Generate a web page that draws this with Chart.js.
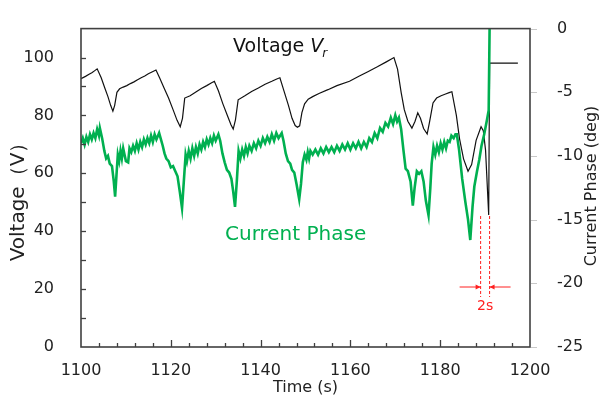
<!DOCTYPE html>
<html>
<head>
<meta charset="utf-8">
<script src="https://cdn.jsdelivr.net/npm/chart.js@4/dist/chart.umd.min.js"></script>
<style>
  html, body { margin: 0; padding: 0; background: #fff; }
  #wrap { width: 604px; height: 407px; }
</style>
</head>
<body>
<div id="wrap"><canvas id="grafik" width="604" height="407"></canvas></div>
<script>
// voltage Vr (left axis, V)
const voltTime = [1100.0, 1101.0, 1101.8, 1102.5, 1103.0, 1103.6, 1104.5, 1105.3, 1106.0, 1106.6, 1107.1, 1107.5, 1108.0, 1108.6, 1109.4, 1110.2, 1111.0, 1111.8, 1112.6, 1113.4, 1114.2, 1115.0, 1115.8, 1116.7,
  1117.5, 1118.5, 1119.5, 1120.5, 1121.4, 1122.1, 1122.6, 1123.1, 1124.3, 1125.5, 1126.8, 1128.0, 1129.0, 1129.7,
  1130.6, 1131.6, 1132.6, 1133.4, 1133.9, 1134.4, 1135.0, 1136.5, 1138.0, 1139.5, 1141.0, 1142.5, 1143.6, 1144.3,
  1145.2, 1146.2, 1147.0, 1147.7, 1148.2, 1148.7, 1149.2, 1149.8, 1150.6, 1151.6, 1153.0, 1155.0, 1157.0, 1159.8, 1162.0, 1164.0, 1166.0, 1168.0, 1169.7,
  1170.5, 1171.3, 1172.0, 1172.8, 1173.7, 1174.4, 1175.0, 1175.6, 1176.3, 1177.1, 1177.6, 1178.4, 1179.2, 1180.2, 1181.2, 1182.0, 1182.6,
  1183.6, 1184.3, 1185.2, 1186.2, 1187.0, 1188.0, 1189.1, 1189.6, 1190.1, 1190.8, 1191.0, 1197.3];
const voltValue = [92.7, 93.5, 94.2, 94.8, 95.4, 96.1, 93.0, 89.5, 86.5, 83.5, 81.5, 83.5, 88.0, 89.2, 89.8, 90.3, 91.0, 91.6, 92.3, 93.0, 93.6, 94.4, 95.0, 95.7,
  93.0, 89.5, 86.0, 82.0, 78.3, 76.1, 79.0, 86.0, 86.8, 88.0, 89.3, 90.3, 91.2, 91.8,
  88.5, 84.0, 80.0, 76.8, 75.3, 78.5, 85.4, 86.8, 88.3, 89.5, 90.8, 91.8, 92.6, 93.0,
  88.5, 83.5, 79.0, 76.5, 75.9, 76.4, 81.0, 84.0, 85.6, 86.5, 87.6, 88.9, 90.3, 91.8, 93.6, 95.2, 96.8, 98.5, 100.0,
  96.0, 88.0, 82.0, 78.0, 75.6, 78.0, 80.9, 79.0, 75.5, 73.6, 77.5, 84.3, 86.0, 86.8, 87.4, 87.9, 88.2,
  80.0, 72.0, 65.0, 60.7, 63.0, 71.4, 76.1, 74.7, 68.0, 45.6, 98.1, 98.1];

// current phase (right axis, deg)
const phaseTime = [1100.0, 1100.4, 1100.8, 1101.2, 1101.6, 1102.0, 1102.4, 1102.8, 1103.2, 1103.6, 1104.0, 1104.2, 1104.7, 1105.2, 1105.6, 1106.0, 1106.4, 1106.9, 1107.3, 1107.6, 1107.9,
  1108.2, 1108.5, 1108.8, 1109.1, 1109.4, 1109.7, 1110.0, 1110.5, 1110.8, 1111.2, 1111.6, 1112.0, 1112.4, 1112.8, 1113.2, 1113.6, 1114.0, 1114.4, 1114.8, 1115.2, 1115.6, 1116.0, 1116.4, 1116.8, 1117.4,
  1117.8, 1118.2, 1118.6, 1119.0, 1119.5, 1120.0, 1120.5, 1121.0, 1121.5, 1122.0, 1122.5, 1122.9,
  1123.3, 1123.6, 1124.0, 1124.4, 1124.8, 1125.2, 1125.6, 1126.0, 1126.4, 1126.8, 1127.2, 1127.6, 1128.0, 1128.4, 1128.8, 1129.2, 1129.6, 1130.0, 1130.6,
  1131.0, 1131.5, 1132.0, 1132.5, 1133.0, 1133.5, 1133.9, 1134.3, 1134.7,
  1135.1, 1135.5, 1135.9, 1136.3, 1136.7, 1137.1, 1137.5, 1138.0, 1138.5, 1139.0, 1139.5, 1140.0, 1140.5, 1141.0, 1141.5, 1142.0, 1142.5, 1143.0, 1143.5, 1144.0, 1144.7,
  1145.1, 1145.6, 1146.1, 1146.6, 1147.0, 1147.5, 1148.0, 1148.6, 1149.0,
  1149.4, 1149.8, 1150.2, 1150.5, 1150.8, 1151.1, 1151.6, 1152.2, 1152.8, 1153.4, 1154.0, 1154.6, 1155.2, 1155.8, 1156.4, 1157.0, 1157.6, 1158.2, 1158.8, 1159.4, 1160.0, 1160.6, 1161.2, 1161.8, 1162.4, 1163.0, 1163.6,
  1164.2, 1164.8, 1165.4, 1166.0, 1166.6, 1167.2, 1167.8, 1168.4, 1169.0, 1169.5, 1170.0, 1170.4, 1170.8,
  1171.3, 1171.8, 1172.3, 1172.8, 1173.4, 1173.9, 1174.3, 1174.8, 1175.3, 1175.8, 1176.3, 1176.8, 1177.4, 1177.8,
  1178.1, 1178.5, 1178.9, 1179.3, 1179.7, 1180.1, 1180.5, 1180.9, 1181.3, 1181.7, 1182.1, 1182.5, 1183.0, 1183.4, 1183.7,
  1184.2, 1184.9, 1185.6, 1186.2, 1186.7, 1187.2, 1187.6, 1188.2, 1188.7, 1189.2, 1189.8, 1190.4, 1190.8, 1191.0];
const phaseValue = [-9.0, -8.6, -9.1, -8.5, -8.9, -8.3, -8.7, -8.2, -8.6, -7.9, -8.4, -7.8, -8.6, -9.6, -10.2, -10.0, -10.6, -10.8, -12.0, -13.2, -11.5,
  -9.9, -10.4, -9.6, -10.2, -9.4, -9.9, -10.4, -10.5, -9.4, -9.7, -9.2, -9.6, -9.0, -9.5, -8.9, -9.3, -8.7, -9.1, -8.6, -9.0, -8.4, -8.9, -8.3, -8.7, -8.2,
  -8.7, -9.2, -9.8, -10.2, -10.4, -10.9, -10.8, -11.2, -11.6, -12.8, -14.1, -12.0,
  -9.9, -10.4, -9.6, -10.2, -9.4, -10.0, -9.3, -9.8, -9.1, -9.5, -8.9, -9.3, -8.7, -9.1, -8.6, -9.0, -8.4, -8.8, -8.3,
  -8.8, -9.8, -10.5, -11.1, -11.3, -11.8, -12.8, -14.0, -12.0,
  -9.6, -10.2, -9.5, -10.0, -9.3, -9.8, -9.2, -9.6, -9.0, -9.4, -8.8, -9.2, -8.6, -9.0, -8.5, -8.9, -8.3, -8.8, -8.2, -8.6, -8.2,
  -8.8, -9.8, -10.4, -10.6, -11.1, -11.3, -12.2, -13.4, -12.2,
  -10.5, -9.9, -10.3, -9.7, -10.2, -9.6, -9.9, -9.5, -9.9, -9.4, -9.8, -9.3, -9.7, -9.3, -9.7, -9.2, -9.6, -9.1, -9.5, -9.0, -9.5, -9.0, -9.4, -8.9, -9.4, -8.9, -9.3,
  -8.6, -8.9, -8.2, -8.6, -7.8, -8.1, -7.4, -7.7, -7.0, -7.5, -6.8, -7.3, -7.0,
  -7.9, -9.5, -11.0, -11.2, -12.0, -13.9, -12.5, -11.2, -11.4, -11.2, -12.0, -13.5, -14.65, -12.5,
  -10.6, -9.3, -9.9, -9.2, -9.7, -9.0, -9.5, -8.9, -9.4, -8.8, -8.9, -8.4, -8.6, -8.3, -8.3,
  -9.5, -11.8, -13.6, -15.0, -16.6, -14.0, -12.4, -11.2, -10.3, -9.2, -8.3, -7.2, -6.4, 0];

const xTicks = [1100, 1120, 1140, 1160, 1180, 1200];
const leftTicks = [0, 20, 40, 60, 80, 100];
const rightTicks = [0, -5, -10, -15, -20, -25];

const hijau = '#00b050';
const abu = '#404040';
const FONT = '"DejaVu Sans", Verdana, sans-serif';

function toPoints(xs, ys) {
    return xs.map((t, i) => ({ x: t, y: ys[i] }));
}

const dekorasi = {
    id: 'dekorasi',
    afterDraw(chart) {
        const ctx = chart.ctx;
        const a = chart.chartArea;
        const sx = chart.scales.x, sl = chart.scales.y, sr = chart.scales.y1;
        ctx.save();

        // frame
        ctx.strokeStyle = abu;
        ctx.lineWidth = 1.6;
        ctx.strokeRect(a.left, a.top, a.right - a.left, a.bottom - a.top);

        // inward ticks left
        ctx.lineWidth = 1.3;
        for (let v = 10; v <= 100; v += 10) {
            const y = Math.round(sl.getPixelForValue(v)) + 0.5;
            ctx.beginPath(); ctx.moveTo(a.left, y); ctx.lineTo(a.left + 5, y); ctx.stroke();
        }
        // inward ticks bottom
        for (let t = 1104; t < 1200; t += 4) {
            const x = Math.round(sx.getPixelForValue(t)) + 0.5;
            const len = (t % 20 === 0) ? 7 : 4;
            ctx.beginPath(); ctx.moveTo(x, a.bottom); ctx.lineTo(x, a.bottom - len); ctx.stroke();
        }
        // outward grey ticks right
        ctx.strokeStyle = '#c8c8c8';
        ctx.lineWidth = 1;
        rightTicks.forEach(d => {
            const y = Math.round(sr.getPixelForValue(d)) + 0.5;
            ctx.beginPath(); ctx.moveTo(a.right + 1, y); ctx.lineTo(a.right + 7, y); ctx.stroke();
        });

        // axis titles
        ctx.fillStyle = '#222';
        ctx.textAlign = 'center';
        ctx.textBaseline = 'middle';
        ctx.font = '16px ' + FONT;
        ctx.fillText('Time (s)', (a.left + a.right) / 2, 388);

        ctx.save();
        ctx.translate(19, 197);
        ctx.rotate(-Math.PI / 2);
        ctx.font = '20px ' + FONT;
        ctx.fillText('Voltage（V）', 0, 0);
        ctx.restore();

        ctx.save();
        ctx.translate(592, 186);
        ctx.rotate(-Math.PI / 2);
        ctx.font = '16px ' + FONT;
        ctx.fillText('Current Phase (deg)', 0, 0);
        ctx.restore();

        // series labels
        ctx.textAlign = 'left';
        ctx.textBaseline = 'alphabetic';
        ctx.fillStyle = '#111';
        ctx.font = '19px ' + FONT;
        const label = 'Voltage ';
        ctx.fillText(label, 233, 52);
        const w = ctx.measureText(label).width;
        ctx.font = 'italic 19px ' + FONT;
        ctx.fillText('V', 233 + w, 52);
        const wv = ctx.measureText('V').width;
        ctx.font = 'italic 12px ' + FONT;
        ctx.fillText('r', 233 + w + wv - 1, 57);

        ctx.fillStyle = hijau;
        ctx.font = '20px ' + FONT;
        ctx.fillText('Current Phase', 225, 240);

        // 2 s marker
        const x1 = sx.getPixelForValue(1189), x2 = sx.getPixelForValue(1191);
        ctx.strokeStyle = '#ff2020';
        ctx.fillStyle = '#ff2020';
        ctx.lineWidth = 1;
        ctx.setLineDash([3, 2]);
        [x1, x2].forEach(x => {
            ctx.beginPath(); ctx.moveTo(x, 216); ctx.lineTo(x, 297); ctx.stroke();
        });
        ctx.setLineDash([]);
        const ay = 287;
        ctx.beginPath(); ctx.moveTo(x1 - 21, ay); ctx.lineTo(x1, ay); ctx.stroke();
        ctx.beginPath(); ctx.moveTo(x2, ay); ctx.lineTo(x2 + 21, ay); ctx.stroke();
        ctx.beginPath(); ctx.moveTo(x1, ay); ctx.lineTo(x1 - 5, ay - 2.5); ctx.lineTo(x1 - 5, ay + 2.5); ctx.closePath(); ctx.fill();
        ctx.beginPath(); ctx.moveTo(x2, ay); ctx.lineTo(x2 + 5, ay - 2.5); ctx.lineTo(x2 + 5, ay + 2.5); ctx.closePath(); ctx.fill();
        ctx.textAlign = 'center';
        ctx.textBaseline = 'middle';
        ctx.font = '14px ' + FONT;
        ctx.fillText('2s', (x1 + x2) / 2, 306);

        ctx.restore();
    }
};

new Chart(document.getElementById('grafik'), {
    type: 'line',
    data: {
        datasets: [
            { label: 'Current Phase', data: toPoints(phaseTime, phaseValue), yAxisID: 'y1', borderColor: hijau, borderWidth: 2.6, pointRadius: 0, tension: 0 },
            { label: 'Voltage Vr', data: toPoints(voltTime, voltValue), yAxisID: 'y', borderColor: '#111', borderWidth: 1.2, pointRadius: 0, tension: 0 }
        ]
    },
    options: {
        responsive: false,
        devicePixelRatio: 1,
        animation: false,
        layout: { padding: { top: 20, left: 0, right: 0, bottom: 0 } },
        plugins: { legend: { display: false }, tooltip: { enabled: false } },
        scales: {
            x: {
                type: 'linear', min: 1100, max: 1200,
                grid: { display: false }, border: { display: false },
                afterBuildTicks: s => { s.ticks = xTicks.map(v => ({ value: v })); },
                ticks: { padding: 6, color: '#222', font: { family: FONT, size: 16 }, maxRotation: 0, callback: v => String(v) },
                afterFit: s => { s.height = 60; }
            },
            y: {
                position: 'left', min: 0, max: 110,
                grid: { display: false }, border: { display: false },
                afterBuildTicks: s => { s.ticks = leftTicks.map(v => ({ value: v })); },
                ticks: { padding: 19, color: '#222', font: { family: FONT, size: 16 }, callback: v => String(v) },
                afterFit: s => { s.width = 81; }
            },
            y1: {
                position: 'right', min: -25, max: 0,
                grid: { display: false }, border: { display: false },
                afterBuildTicks: s => { s.ticks = rightTicks.map(v => ({ value: v })); },
                ticks: { padding: 19, color: '#222', font: { family: FONT, size: 16 }, callback: v => String(v) },
                afterFit: s => { s.width = 74; }
            }
        }
    },
    plugins: [dekorasi]
});
</script>
</body>
</html>
